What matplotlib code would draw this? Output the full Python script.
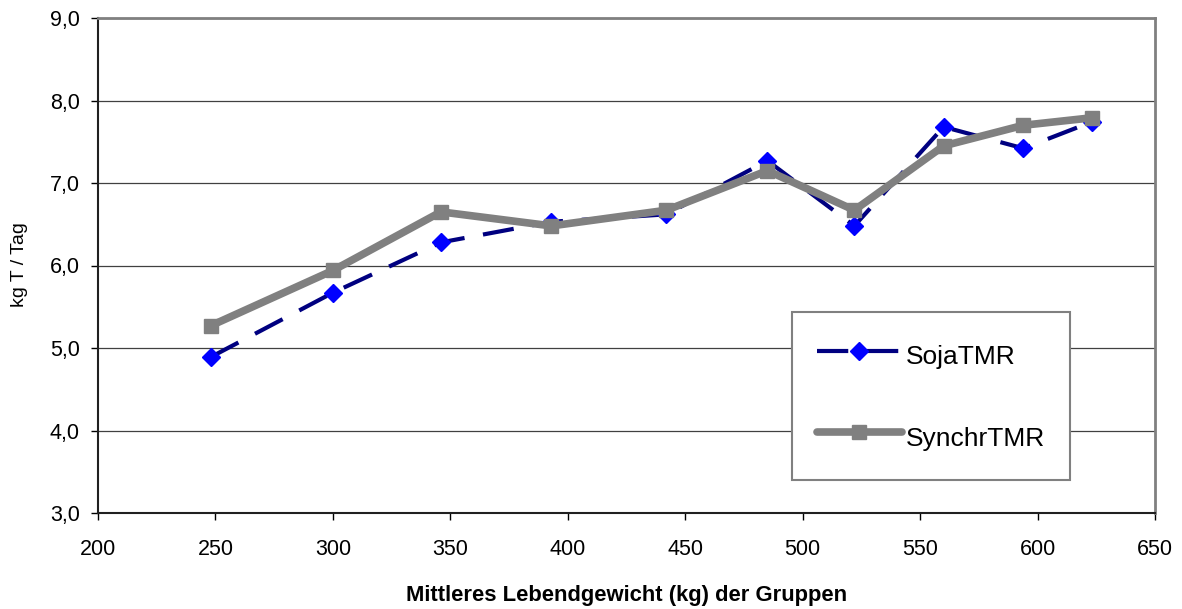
import matplotlib.pyplot as plt
from matplotlib.ticker import FuncFormatter

plt.rcParams['font.family'] = ['Liberation Sans', 'DejaVu Sans']

# Mittleres Lebendgewicht (kg) der Gruppen
gewicht = [248, 300, 346, 393, 442, 485, 522, 560, 594, 623]
soja_tmr = [4.89, 5.67, 6.28, 6.53, 6.62, 7.27, 6.48, 7.68, 7.42, 7.74]
synchr_tmr = [5.27, 5.94, 6.65, 6.48, 6.67, 7.15, 6.67, 7.45, 7.70, 7.79]

x_ticks = [200, 250, 300, 350, 400, 450, 500, 550, 600, 650]
y_ticks = [3, 4, 5, 6, 7, 8, 9]

fig = plt.figure(figsize=(11.82, 6.09), dpi=100)
ax = fig.add_axes([98 / 1182, 1 - 513 / 609, 1057 / 1182, 495 / 609])

ax.plot(gewicht, soja_tmr, color='#000080', lw=3, dashes=(7.5, 4.5),
        marker='D', markersize=9, markerfacecolor='#0000FF',
        markeredgecolor='#0000FF', label='SojaTMR', zorder=2)
ax.plot(gewicht, synchr_tmr, color='#808080', lw=5.5, solid_capstyle='round',
        marker='s', markersize=10, markerfacecolor='#808080',
        markeredgecolor='#808080', label='SynchrTMR', zorder=3)

ax.set_xlim(200, 650)
ax.set_ylim(3, 9)
ax.set_xticks(x_ticks)
ax.set_yticks(y_ticks)
ax.yaxis.set_major_formatter(FuncFormatter(lambda v, p: f"{v:.1f}".replace('.', ',')))
ax.grid(axis='y', color='#404040', lw=0.9)
ax.set_axisbelow(True)

ax.tick_params(axis='both', labelsize=15.5, direction='out', length=5, width=1, pad=8)
ax.tick_params(axis='x', pad=14)

for s in ['left', 'bottom']:
    ax.spines[s].set_color('#202020')
    ax.spines[s].set_linewidth(1.5)
for s in ['top', 'right']:
    ax.spines[s].set_color('#808080')
    ax.spines[s].set_linewidth(2)

fig.text(20 / 1182, 1 - 265 / 609, 'kg T / Tag', rotation=90, fontsize=14,
         ha='center', va='center')
fig.text((98 + 1155) / 2 / 1182, 1 - 595 / 609,
         'Mittleres Lebendgewicht (kg) der Gruppen', fontsize=15.8,
         fontweight='bold', ha='center', va='center')

leg = ax.legend(loc='center', bbox_to_anchor=(0.788, 0.236), fontsize=19,
                handlelength=3.2, handleheight=1.7, handletextpad=0.15,
                labelspacing=1.75, borderpad=0.95, fancybox=False,
                framealpha=1, edgecolor='#808080')
leg.get_frame().set_linewidth(1.5)

fig.savefig('out.png', dpi=100)
